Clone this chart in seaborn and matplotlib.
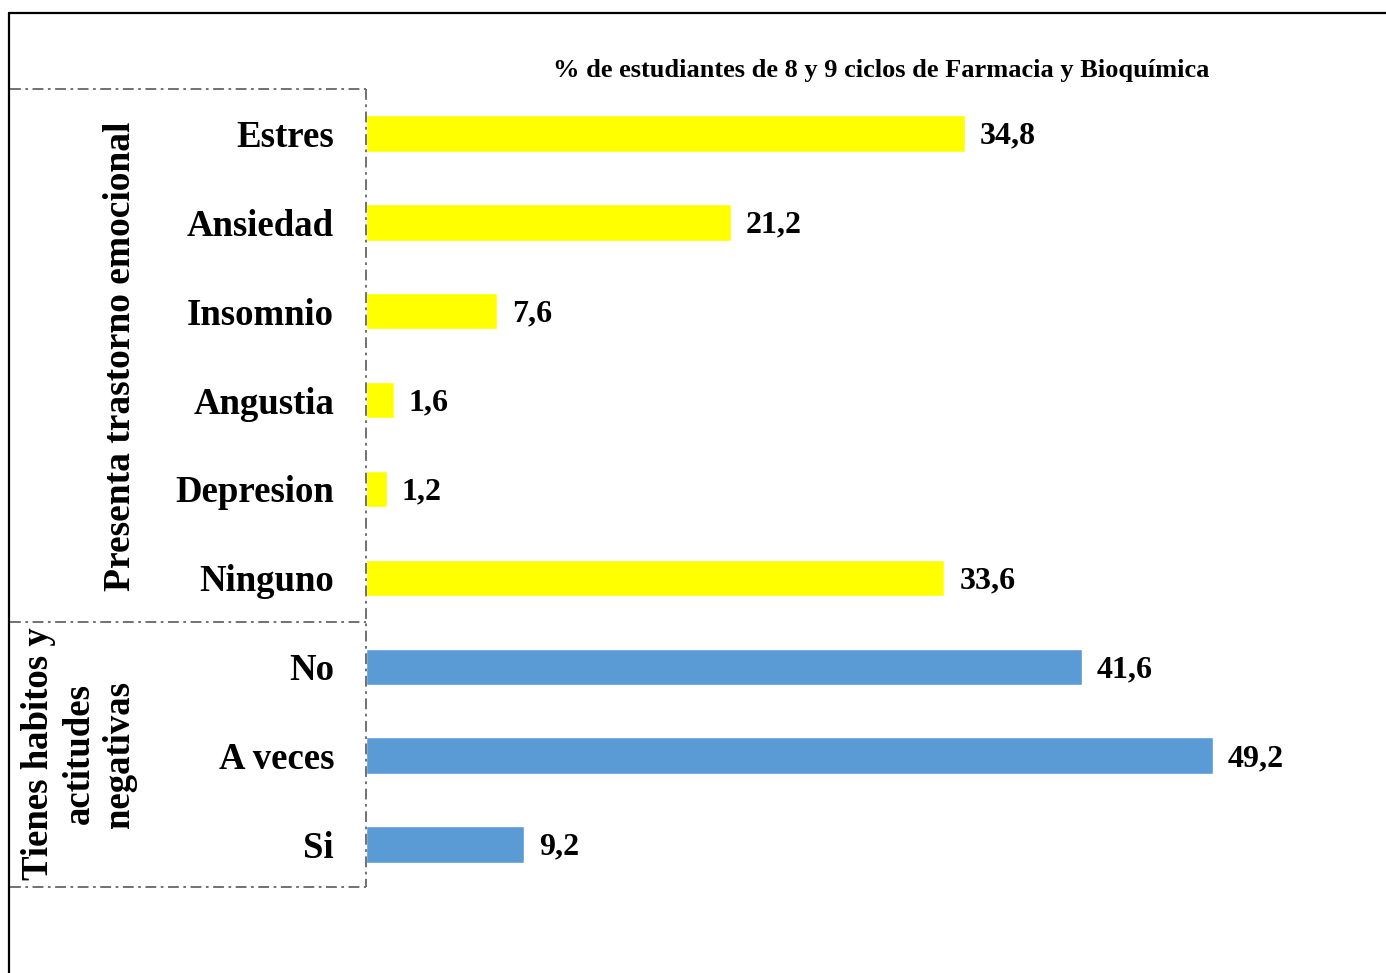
import matplotlib
matplotlib.use("Agg")
import matplotlib.pyplot as plt
import seaborn as sns
import pandas as pd
from matplotlib.lines import Line2D

categories = ["Estres", "Ansiedad", "Insomnio", "Angustia", "Depresion", "Ninguno",
              "No", "A veces", "Si"]
values = [34.8, 21.2, 7.6, 1.6, 1.2, 33.6, 41.6, 49.2, 9.2]
groups = ["Presenta trastorno emocional"] * 6 + ["Tienes habitos y actitudes negativas"] * 3
group_colors = {"Presenta trastorno emocional": "#FFFF00",
                "Tienes habitos y actitudes negativas": "#5B9BD5"}
title = "% de estudiantes de 8 y 9 ciclos de Farmacia y Bioquímica"

sns.set_theme(style="white")
plt.rcParams['font.family'] = ['Liberation Serif', 'DejaVu Serif']
plt.rcParams['font.weight'] = 'bold'
plt.rcParams['text.color'] = 'black'
plt.rcParams['ytick.color'] = 'black'
plt.rcParams['ytick.labelcolor'] = 'black'

df = pd.DataFrame({"cat": categories, "val": values, "grp": groups})

W, H = 1386, 973
fig = plt.figure(figsize=(W / 100, H / 100), dpi=100)
ax = fig.add_axes([366 / W, 84 / H, 0.72, 800 / H])

sns.barplot(data=df, y="cat", x="val", hue="grp", palette=group_colors,
            orient="h", width=0.41, dodge=False, legend=False, ax=ax,
            order=categories, saturation=1)

ax.set_xlim(0, 58)
ax.set_ylim(8.5, -0.5)
ax.set_xlabel("")
ax.set_ylabel("")
ax.set_xticks([])
for s in ["top", "right", "bottom", "left"]:
    ax.spines[s].set_visible(False)
ax.tick_params(axis="y", length=0, pad=23, labelsize=26.5, labelcolor="black")
for lab in ax.get_yticklabels():
    lab.set_fontweight("bold")

for cont in ax.containers:
    anns = ax.bar_label(cont, labels=[f"{v:.1f}".replace(".", ",") for v in cont.datavalues],
                        padding=11, fontsize=23, fontweight="bold", color="black")
    for a in anns:
        x0, y0 = a.xyann
        a.xyann = (x0, y0 - 2)

fig.text(881 / W, 1 - 70 / H, title, ha="center", va="center", fontsize=19,
         fontweight="bold", color="black")

# Figure frame (top and left)
fig.add_artist(Line2D([9 / W, 1], [1 - 13 / H, 1 - 13 / H], color="black", lw=1.6,
                      transform=fig.transFigure))
fig.add_artist(Line2D([9 / W, 9 / W], [0, 1 - 13 / H], color="black", lw=1.6,
                      transform=fig.transFigure))

# Dash-dot group boxes
dash = dict(color="#666666", lw=1.3, linestyle=(0, (6, 2.5, 1.5, 2.5)),
            transform=fig.transFigure)
for yy in [89, 622, 887]:
    fig.add_artist(Line2D([10 / W, 366 / W], [1 - yy / H, 1 - yy / H], **dash))
fig.add_artist(Line2D([366 / W, 366 / W], [1 - 89 / H, 1 - 887 / H], **dash))

fig.text(120 / W, 1 - 356 / H, "Presenta trastorno emocional", rotation=90,
         ha="center", va="center", fontsize=27, fontweight="bold", color="black")
fig.text(79 / W, 1 - 754 / H, "Tienes habitos y\nactitudes\nnegativas", rotation=90,
         ha="center", va="center", multialignment="center", fontsize=26.5,
         fontweight="bold", linespacing=1.2, color="black")

fig.savefig("out.png", dpi=100)
